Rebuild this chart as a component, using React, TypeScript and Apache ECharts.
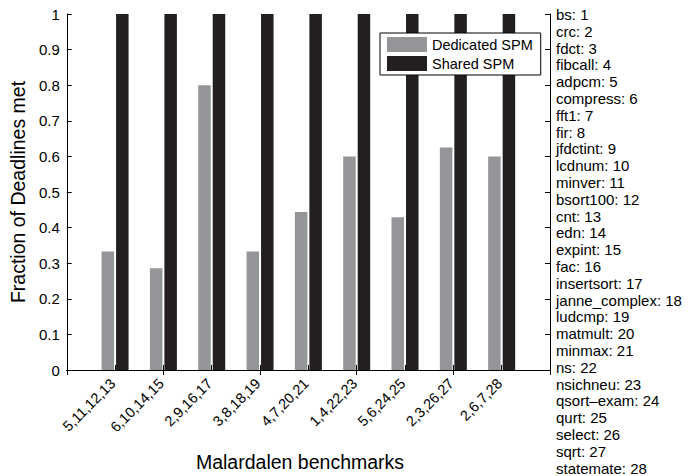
import React, { useEffect, useRef } from "react";
import * as echarts from "echarts";

const categories = ["5,11,12,13", "6,10,14,15", "2,9,16,17", "3,8,18,19", "4,7,20,21", "1,4,22,23", "5,6,24,25", "2,3,26,27", "2,6,7,28"];
const dedicatedSPM = [0.333, 0.286, 0.8, 0.333, 0.444, 0.6, 0.429, 0.625, 0.6];
const sharedSPM = [1, 1, 1, 1, 1, 1, 1, 1, 1];
const benchmarks = ["bs", "crc", "fdct", "fibcall", "adpcm", "compress", "fft1", "fir", "jfdctint", "lcdnum", "minver", "bsort100", "cnt", "edn", "expint", "fac", "insertsort", "janne_complex", "ludcmp", "matmult", "minmax", "ns", "nsichneu", "qsort\u2013exam", "qurt", "select", "sqrt", "statemate"];

const FONT = "'Liberation Sans', Arial, Helvetica, sans-serif";
const GRAY = "#939598";
const BLACK = "#231f20";

export default function App() {
  const ref = useRef<HTMLDivElement>(null);
  useEffect(() => {
    if (!ref.current) return;
    const chart = echarts.init(ref.current, null, { renderer: "svg" });
    // padded category axis: empty slot on each side so positions run 0..10
    const xCats = ["", ...categories, ""];
    const pad = (arr: number[]) => [null, ...arr, null];
    chart.setOption({
      animation: false,
      textStyle: { fontFamily: FONT },
      grid: { left: 63, right: 144, top: 14, bottom: 106, containLabel: false },
      legend: {
        orient: "vertical",
        left: 380,
        top: 33,
        icon: "rect",
        itemWidth: 40,
        itemHeight: 15,
        itemGap: 4,
        padding: [4, 8, 4, 7],
        backgroundColor: "#ffffff",
        borderColor: "#000000",
        borderWidth: 1,
        textStyle: { fontSize: 14.5, color: "#000", fontFamily: FONT },
        data: ["Dedicated SPM", "Shared SPM"],
      },
      xAxis: [
        {
          type: "category",
          data: xCats,
          boundaryGap: false,
          axisLine: { lineStyle: { color: "#000", width: 1 } },
          axisTick: { inside: true, length: 5, lineStyle: { color: "#000" } },
          axisLabel: { rotate: 45, fontSize: 14.5, color: "#000", margin: 9, fontFamily: FONT, interval: 0, padding: [0, 3, 0, 0] },
          splitLine: { show: false },
        },
        {
          type: "category",
          data: xCats,
          boundaryGap: false,
          position: "top",
          axisLine: { lineStyle: { color: "#000", width: 1 } },
          axisTick: { inside: true, length: 5, lineStyle: { color: "#000" } },
          axisLabel: { show: false },
        },
      ],
      yAxis: [
        {
          type: "value",
          min: 0,
          max: 1,
          interval: 0.1,
          name: "Fraction of Deadlines met",
          nameLocation: "middle",
          nameGap: 33,
          nameRotate: 90,
          nameTextStyle: { fontSize: 19.5, color: "#000", fontFamily: FONT },
          axisLine: { show: true, lineStyle: { color: "#000", width: 1 } },
          axisTick: { show: true, inside: true, length: 5, lineStyle: { color: "#000" } },
          axisLabel: { fontSize: 15, color: "#000", margin: 7, fontFamily: FONT },
          splitLine: { show: false },
        },
        {
          type: "value",
          min: 0,
          max: 1,
          interval: 0.1,
          position: "right",
          axisLine: { show: true, lineStyle: { color: "#000", width: 1 } },
          axisTick: { show: true, inside: true, length: 5, lineStyle: { color: "#000" } },
          axisLabel: { show: false },
          splitLine: { show: false },
        },
      ],
      series: [
        {
          name: "Dedicated SPM",
          type: "bar",
          data: pad(dedicatedSPM),
          barWidth: 12.5,
          barGap: "16%",
          itemStyle: { color: GRAY },
        },
        {
          name: "Shared SPM",
          type: "bar",
          data: pad(sharedSPM),
          barWidth: 12.5,
          barGap: "16%",
          itemStyle: { color: BLACK },
        },
      ],
      graphic: [
        {
          type: "text",
          left: 556,
          top: 6,
          style: {
            text: benchmarks.map((b, i) => `${b}: ${i + 1}`).join("\n"),
            fontSize: 15,
            lineHeight: 16.8,
            fill: "#000",
            fontFamily: FONT,
          },
        },
        {
          type: "text",
          x: 300,
          y: 462,
          style: {
            text: "Malardalen benchmarks",
            fontSize: 19.5,
            fill: "#000",
            fontFamily: FONT,
            align: "center",
            verticalAlign: "middle",
          },
        },
      ],
    });
    return () => chart.dispose();
  }, []);
  return <div ref={ref} style={{ width: 694, height: 476, position: "absolute", left: 0, top: 0 }} />;
}
